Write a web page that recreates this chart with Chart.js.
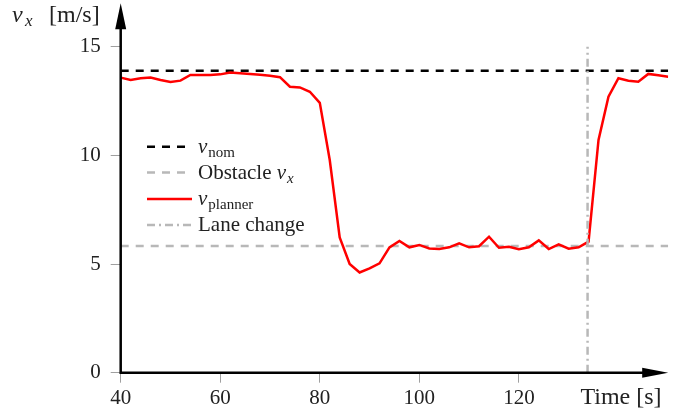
<!DOCTYPE html>
<html>
<head>
<meta charset="utf-8">
<script src="https://cdn.jsdelivr.net/npm/chart.js@4.4.0/dist/chart.umd.min.js"></script>
<style>
  html, body { margin: 0; padding: 0; background: #fff; }
  #wrap { width: 689px; height: 416px; position: relative; }
</style>
</head>
<body>
<div id="wrap"><canvas id="myChart"></canvas></div>
<script>
// values
const times = [40, 42, 44, 46, 48, 50, 52, 54, 56, 58, 60, 62, 64, 66, 68, 70, 72, 74, 76, 78,
    80, 82, 84, 86, 88, 90, 92, 94, 96, 98, 100, 102, 104, 106, 108, 110, 112, 114, 116, 118,
    120, 122, 124, 126, 128, 130, 132, 134, 136, 138, 140, 142, 144, 146, 148, 150];
const plannerV = [13.58, 13.47, 13.55, 13.58, 13.47, 13.38, 13.44, 13.70, 13.70, 13.70, 13.73, 13.82, 13.78, 13.75, 13.71, 13.67, 13.60, 13.16, 13.13, 12.93,
    12.42, 9.79, 6.23, 5.00, 4.61, 4.80, 5.03, 5.77, 6.06, 5.77, 5.88, 5.72, 5.69, 5.77, 5.95, 5.77, 5.82, 6.26, 5.75, 5.80,
    5.68, 5.77, 6.09, 5.69, 5.91, 5.71, 5.77, 6.03, 10.71, 12.70, 13.55, 13.44, 13.39, 13.75, 13.69, 13.62];
const timeRange = [40, 150];
const nomV = 13.9;
const obstacleV = 5.83;
const laneChangeT = 133.8;
const laneChangeV = [0, 15];
const xTicks = [40, 60, 80, 100, 120];
const yTicks = [0, 5, 10, 15];

const serif = '"Liberation Serif", "DejaVu Serif", serif';
const grey = '#b8b8b8';

const data = {
    datasets: [{
        label: 'nom',
        data: timeRange.map(t => ({ x: t, y: nomV })),
        borderColor: '#000',
        borderWidth: 2.5,
        borderDash: [8, 7],
        order: 4
    }, {
        label: 'obstacle',
        data: timeRange.map(t => ({ x: t, y: obstacleV })),
        borderColor: grey,
        borderWidth: 2.5,
        borderDash: [8, 7],
        order: 3
    }, {
        label: 'planner',
        data: times.map((t, i) => ({ x: t, y: plannerV[i] })),
        borderColor: '#ff0000',
        borderWidth: 2.5,
        order: 2
    }, {
        label: 'lane',
        data: laneChangeV.map(v => ({ x: laneChangeT, y: v })),
        borderColor: grey,
        borderWidth: 2.5,
        borderDash: [8, 4, 2, 4],
        order: 1
    }]
};

// axes with arrow heads, axis titles, legend
const decorations = {
    id: 'decorations',
    afterDatasetsDraw(chart) {
        const ctx = chart.ctx;
        const a = chart.chartArea;
        ctx.save();
        ctx.strokeStyle = '#000';
        ctx.fillStyle = '#000';
        ctx.lineWidth = 2.5;
        ctx.lineCap = 'butt';
        ctx.beginPath();
        ctx.moveTo(a.left, a.bottom + 1.25);
        ctx.lineTo(a.left, a.top + 15);
        ctx.moveTo(a.left - 1.25, a.bottom);
        ctx.lineTo(a.right - 15, a.bottom);
        ctx.stroke();
        // arrow heads
        ctx.beginPath();
        ctx.moveTo(a.left, a.top);
        ctx.lineTo(a.left + 5.5, a.top + 26);
        ctx.lineTo(a.left - 5.5, a.top + 26);
        ctx.closePath();
        ctx.fill();
        ctx.beginPath();
        ctx.moveTo(a.right, a.bottom);
        ctx.lineTo(a.right - 26, a.bottom - 5);
        ctx.lineTo(a.right - 26, a.bottom + 5);
        ctx.closePath();
        ctx.fill();

        // axis titles
        ctx.fillStyle = '#222';
        ctx.textBaseline = 'alphabetic';
        ctx.textAlign = 'left';
        ctx.font = 'italic 24px ' + serif;
        ctx.fillText('v', 12, 22);
        ctx.font = 'italic 17px ' + serif;
        ctx.fillText('x', 25, 26);
        ctx.font = '24px ' + serif;
        ctx.fillText('[m/s]', 49, 22);
        ctx.textAlign = 'center';
        ctx.fillText('Time [s]', 621, 404);

        // legend
        const rows = [146.7, 172.6, 199, 225];
        const parts = [
            [['v', 'i'], ['nom', 's']],
            [['Obstacle ', 'n'], ['v', 'i'], ['x', 'si']],
            [['v', 'i'], ['planner', 's']],
            [['Lane change', 'n']]
        ];
        chart.data.datasets.forEach((ds, i) => {
            const y = rows[i];
            ctx.save();
            ctx.strokeStyle = ds.borderColor;
            ctx.lineWidth = ds.borderWidth;
            ctx.setLineDash(ds.borderDash || []);
            ctx.beginPath();
            ctx.moveTo(147, y);
            ctx.lineTo(192, y);
            ctx.stroke();
            ctx.restore();
            let x = 198;
            ctx.textAlign = 'left';
            ctx.fillStyle = '#222';
            parts[i].forEach(p => {
                let base = y + 6;
                if (p[1] === 'i') ctx.font = 'italic 21px ' + serif;
                else if (p[1] === 'n') ctx.font = '21px ' + serif;
                else if (p[1] === 's') { ctx.font = '15px ' + serif; base += 4; }
                else { ctx.font = 'italic 15px ' + serif; base += 4; }
                ctx.fillText(p[0], x, base);
                x += ctx.measureText(p[0]).width + (p[1] === 'i' ? 1 : 0);
            });
        });
        ctx.restore();
    }
};

const config = {
    type: 'line',
    data: data,
    options: {
        responsive: true,
        maintainAspectRatio: false,
        animation: false,
        layout: { padding: { top: 3.3, right: 20.8, left: 0, bottom: 0 } },
        elements: { point: { radius: 0 }, line: { tension: 0 } },
        plugins: { legend: { display: false }, tooltip: { enabled: false } },
        scales: {
            x: {
                type: 'linear',
                min: timeRange[0],
                max: timeRange[1],
                afterFit: s => { s.height = 43.3; s.paddingLeft = 0; s.paddingRight = 0; },
                afterBuildTicks: s => { s.ticks = xTicks.map(v => ({ value: v })); },
                border: { display: false },
                grid: { drawOnChartArea: false, drawTicks: true, tickLength: 10, tickColor: '#a0a0a0', tickWidth: 1 },
                ticks: { color: '#222', padding: 3, maxRotation: 0, autoSkip: false, font: { family: serif, size: 21 } }
            },
            y: {
                type: 'linear',
                min: 0,
                max: 17,
                afterFit: s => { s.width = 120.7; s.paddingTop = 0; s.paddingBottom = 0; },
                afterBuildTicks: s => { s.ticks = yTicks.map(v => ({ value: v })); },
                border: { display: false },
                grid: { drawOnChartArea: false, drawTicks: true, tickLength: 10, tickColor: '#a0a0a0', tickWidth: 1 },
                ticks: { color: '#222', padding: 10, font: { family: serif, size: 21 } }
            }
        }
    },
    plugins: [decorations]
};

let myChart = new Chart(document.getElementById('myChart'), config);
</script>
</body>
</html>
